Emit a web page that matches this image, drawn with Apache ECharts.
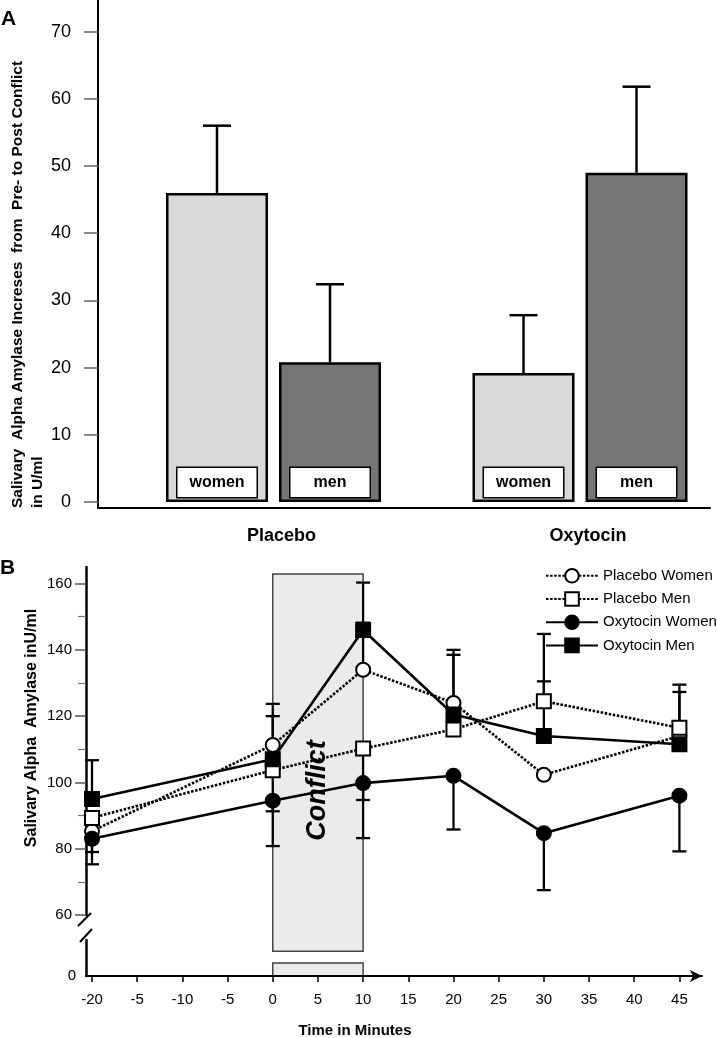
<!DOCTYPE html>
<html><head><meta charset="utf-8">
<script src="https://cdn.jsdelivr.net/npm/echarts@6/dist/echarts.min.js"></script>
<style>html,body{margin:0;padding:0;background:#fff}#c{width:717px;height:1038px}</style>
</head><body><div id="c"></div>
<script>
// ---------- Panel A data ----------
const groupsA = ['Placebo', 'Oxytocin'];
const sexesA = ['women', 'men'];
const womenA = [46.0, 19.2];
const menA = [20.8, 49.0];
const womenErrA = [10.0, 8.6];
const menErrA = [11.6, 12.8];
const ticksA = [0, 10, 20, 30, 40, 50, 60, 70];

// ---------- Panel B data ----------
const timeTickLabels = ['-20', '-5', '-10', '-5', '0', '5', '10', '15', '20', '25', '30', '35', '40', '45'];
const timeIdx = [0, 4, 6, 8, 10, 13];          // positions of -20, 0, 10, 20, 30, 45 on the tick row
const seriesNamesB = ['Placebo Women', 'Placebo Men', 'Oxytocin Women', 'Oxytocin Men'];
const placeboWomen = [85.3, 111.3, 134.0, 124.0, 102.3, 114.0];
const placeboMen = [89.3, 103.7, 110.2, 116.0, 124.5, 116.5];
const oxytocinWomen = [83.0, 94.5, 99.8, 102.0, 84.7, 96.0];
const oxytocinMen = [95.0, 107.0, 146.0, 120.5, 114.0, 111.5];
const placeboWomenErrUp = [null, 12.4, 14.2, 16.0, null, 13.3];
const placeboWomenErrDown = [6.3, null, null, null, null, null];
const placeboMenErrUp = [null, null, null, null, 20.3, 13.0];
const placeboMenErrDown = [null, 12.4, 15.5, null, null, null];
const oxytocinWomenErrDown = [7.7, 13.7, 16.6, 16.2, 17.2, 16.8];
const oxytocinMenErrUp = [11.7, 13.0, 14.3, 18.0, 16.5, null];
const ticksBMajor = [60, 80, 100, 120, 140, 160];
const ticksBMinor = [70, 90, 110, 130, 150];
const conflictSpan = [4, 6];          // 0 min .. 10 min
const conflictUpper = [49.1, 162.9];
const conflictLower = [0, 3.6];

// ---------- rendering ----------
const FONT = '"Liberation Sans", Arial, Helvetica, sans-serif';
const chart = echarts.init(document.getElementById('c'), null, {renderer: 'canvas', width: 717, height: 1038});

const barData = vals => vals.map((v, i) => [i + 1, v]);
const errDataA = (vals, errs) => vals.map((v, i) => [i + 1, v, errs[i]]);

function errRenderA(offset) {
  return function (params, api) {
    const x = api.value(0), v = api.value(1), e = api.value(2);
    const p0 = api.coord([x, v]);
    const p1 = api.coord([x, v + e]);
    const cx = p0[0] + offset;
    return {type: 'group', children: [
      {type: 'line', shape: {x1: cx, y1: p0[1], x2: cx, y2: p1[1]}, style: {stroke: '#000', lineWidth: 2.5}},
      {type: 'line', shape: {x1: cx - 14, y1: p1[1], x2: cx + 14, y2: p1[1]}, style: {stroke: '#000', lineWidth: 2.5}}
    ]};
  };
}

const seriesB = [placeboWomen, placeboMen, oxytocinWomen, oxytocinMen];
const errUpB = [placeboWomenErrUp, placeboMenErrUp, null, oxytocinMenErrUp];
const errDownB = [placeboWomenErrDown, placeboMenErrDown, oxytocinWomenErrDown, null];
const errItemsB = [];
seriesB.forEach((vals, s) => {
  vals.forEach((v, i) => {
    if (errUpB[s] && errUpB[s][i] != null) errItemsB.push([timeIdx[i], v, v + errUpB[s][i]]);
    if (errDownB[s] && errDownB[s][i] != null) errItemsB.push([timeIdx[i], v, v - errDownB[s][i]]);
  });
});

const styleB = [
  {symbol: 'circle', fill: '#fff', dash: [2.5, 1.6]},
  {symbol: 'rect', fill: '#fff', dash: [2.5, 1.6]},
  {symbol: 'circle', fill: '#000', dash: 'solid'},
  {symbol: 'rect', fill: '#000', dash: 'solid'}
];

function boxRender(withText) {
  return function (params, api) {
    const a = api.coord([api.value(0), api.value(3)]);
    const b = api.coord([api.value(1), api.value(2)]);
    const children = [
      {type: 'rect', shape: {x: a[0], y: a[1], width: b[0] - a[0], height: b[1] - a[1]},
       style: {fill: '#ebebeb', stroke: '#444', lineWidth: 1.5}}
    ];
    if (withText) {
      children.push({type: 'text', x: (a[0] + b[0]) / 2, y: (a[1] + b[1]) / 2 + 28, rotation: Math.PI / 2,
        style: {text: 'Conflict', font: 'italic bold 27px ' + FONT, fill: '#000',
                align: 'center', verticalAlign: 'middle', textAlign: 'center', textVerticalAlign: 'middle'}});
    }
    return {type: 'group', children};
  };
}

const axisFont = {color: '#000', fontFamily: FONT};

const option = {
  animation: false,
  backgroundColor: '#fff',
  textStyle: {fontFamily: FONT},
  legend: {
    data: seriesNamesB, orient: 'vertical', left: 545, top: 568, padding: 0,
    itemWidth: 52, itemHeight: 17, itemGap: 7.6,
    textStyle: {fontSize: 15, color: '#000', fontFamily: FONT},
    selectedMode: false
  },
  grid: [
    {left: 98, right: 7, top: 0, height: 508, outerBoundsMode: 'none', containLabel: false},
    {left: 86, right: 15, top: 567, height: 348, outerBoundsMode: 'none', containLabel: false},
    {left: 86, right: 15, top: 940, height: 36, outerBoundsMode: 'none', containLabel: false}
  ],
  xAxis: [
    {gridIndex: 0, type: 'value', min: 0.4274, max: 2.4241,
     axisLine: {show: true, onZero: false, lineStyle: {color: '#000', width: 2}},
     axisTick: {show: false}, splitLine: {show: false},
     axisLabel: {customValues: [1, 2], formatter: v => groupsA[Math.round(v) - 1], margin: 19,
                 fontSize: 18, fontWeight: 'bold', padding: [0, 0, 0, 16], ...axisFont}},
    {gridIndex: 1, type: 'value', min: -0.133, max: 13.5, show: false, splitLine: {show: false}},
    {gridIndex: 2, type: 'value', min: -0.133, max: 13.5,
     axisLine: {show: true, onZero: false, lineStyle: {color: '#000', width: 2},
                symbol: ['none', 'arrow'], symbolSize: [9, 12]},
     axisTick: {show: true, customValues: timeTickLabels.map((_, i) => i), length: 6,
                lineStyle: {color: '#000', width: 1.5}},
     splitLine: {show: false},
     axisLabel: {customValues: timeTickLabels.map((_, i) => i), formatter: v => timeTickLabels[Math.round(v)],
                 margin: 16, fontSize: 15, ...axisFont}}
  ],
  yAxis: [
    {gridIndex: 0, type: 'value', min: -0.89, max: 74.7,
     axisLine: {show: true, onZero: false, lineStyle: {color: '#000', width: 2}},
     axisTick: {show: true, customValues: ticksA, length: 14, lineStyle: {color: '#666', width: 1.5}},
     axisLabel: {customValues: ticksA, margin: 27, fontSize: 18, ...axisFont},
     splitLine: {show: false}},
    {gridIndex: 1, type: 'value', min: 60, max: 165, position: 'left', offset: 0,
     axisLine: {show: true, onZero: false, lineStyle: {color: '#000', width: 2.5}},
     axisTick: {show: true, customValues: ticksBMajor, length: 11, lineStyle: {color: '#555', width: 1.5}},
     axisLabel: {customValues: ticksBMajor, margin: 14, fontSize: 15, ...axisFont},
     splitLine: {show: false}},
    {gridIndex: 2, type: 'value', min: 0, max: 10, position: 'left',
     axisLine: {show: true, onZero: false, lineStyle: {color: '#000', width: 2.5}},
     axisTick: {show: false},
     axisLabel: {customValues: [0], margin: 10, fontSize: 15, ...axisFont},
     splitLine: {show: false}},
    {gridIndex: 1, type: 'value', min: 60, max: 165, position: 'left', offset: 0,
     axisLine: {show: false, onZero: false},
     axisTick: {show: true, inside: false, customValues: ticksBMinor, length: 8, lineStyle: {color: '#777', width: 1.2}},
     axisLabel: {show: false}, splitLine: {show: false}}
  ],
  series: [
    // Panel A bars
    {type: 'bar', name: sexesA[0], xAxisIndex: 0, yAxisIndex: 0, data: barData(womenA),
     barWidth: 102, barGap: '10.8%',
     itemStyle: {color: '#d9d9d9', borderColor: '#000', borderWidth: 2.5},
     label: {show: true, position: 'insideBottom', distance: 5, formatter: '{a}',
             backgroundColor: '#fff', borderColor: '#000', borderWidth: 1.5,
             width: 71, height: 27, lineHeight: 27, padding: [1, 4], align: 'center',
             fontSize: 16, fontWeight: 'bold', color: '#000', fontFamily: FONT},
     emphasis: {disabled: true}, z: 2},
    {type: 'bar', name: sexesA[1], xAxisIndex: 0, yAxisIndex: 0, data: barData(menA),
     barWidth: 102, barGap: '10.8%',
     itemStyle: {color: '#767676', borderColor: '#000', borderWidth: 2.5},
     label: {show: true, position: 'insideBottom', distance: 5, formatter: '{a}',
             backgroundColor: '#fff', borderColor: '#000', borderWidth: 1.5,
             width: 71, height: 27, lineHeight: 27, padding: [1, 4], align: 'center',
             fontSize: 16, fontWeight: 'bold', color: '#000', fontFamily: FONT},
     emphasis: {disabled: true}, z: 2},
    {type: 'custom', name: 'errWomen', xAxisIndex: 0, yAxisIndex: 0, data: errDataA(womenA, womenErrA),
     renderItem: errRenderA(-56.5), encode: {x: 0, y: 1}, z: 3, silent: true},
    {type: 'custom', name: 'errMen', xAxisIndex: 0, yAxisIndex: 0, data: errDataA(menA, menErrA),
     renderItem: errRenderA(56.5), encode: {x: 0, y: 1}, z: 3, silent: true},
    // Panel B conflict boxes
    {type: 'custom', name: 'conflictUpper', xAxisIndex: 1, yAxisIndex: 1, clip: false,
     data: [[conflictSpan[0], conflictSpan[1], conflictUpper[0], conflictUpper[1]]],
     encode: {x: [0, 1], y: [2, 3]}, renderItem: boxRender(true), z: 0, silent: true},
    {type: 'custom', name: 'conflictLower', xAxisIndex: 2, yAxisIndex: 2, clip: false,
     data: [[conflictSpan[0], conflictSpan[1], conflictLower[0], conflictLower[1]]],
     encode: {x: [0, 1], y: [2, 3]}, renderItem: boxRender(false), z: 0, silent: true},
    // Panel B error bars
    {type: 'custom', name: 'errB', xAxisIndex: 1, yAxisIndex: 1, clip: false, data: errItemsB,
     encode: {x: 0, y: [1, 2]}, z: 2, silent: true,
     renderItem: function (params, api) {
       const p0 = api.coord([api.value(0), api.value(1)]);
       const p1 = api.coord([api.value(0), api.value(2)]);
       return {type: 'group', children: [
         {type: 'line', shape: {x1: p0[0], y1: p0[1], x2: p1[0], y2: p1[1]}, style: {stroke: '#000', lineWidth: 2.3}},
         {type: 'line', shape: {x1: p1[0] - 7, y1: p1[1], x2: p1[0] + 7, y2: p1[1]}, style: {stroke: '#000', lineWidth: 2.3}}
       ]};
     }},
    // Panel B lines
    ...seriesB.map((vals, s) => ({
      type: 'line', name: seriesNamesB[s], xAxisIndex: 1, yAxisIndex: 1,
      data: vals.map((v, i) => [timeIdx[i], v]),
      symbol: styleB[s].symbol, symbolSize: 14, showAllSymbol: true,
      itemStyle: {color: styleB[s].fill, borderColor: '#000', borderWidth: 2},
      lineStyle: {color: '#000', width: 2.6, type: styleB[s].dash},
      emphasis: {disabled: true}, z: 4 + (s >= 2 ? 1 : 0)
    }))
  ],
  graphic: [
    {type: 'text', x: 1, y: 19, style: {text: 'A', font: 'bold 21px ' + FONT, fill: '#000',
      verticalAlign: 'middle', textVerticalAlign: 'middle'}},
    {type: 'text', x: 0, y: 568, style: {text: 'B', font: 'bold 21px ' + FONT, fill: '#000',
      verticalAlign: 'middle', textVerticalAlign: 'middle'}},
    {type: 'text', x: 28, y: 508, rotation: Math.PI / 2,
     style: {text: 'Salivary  Alpha Amylase Increses  from  Pre- to Post Conflict\nin U/ml',
             font: 'bold 15.5px ' + FONT, lineHeight: 20, fill: '#000',
             align: 'left', textAlign: 'left', verticalAlign: 'middle', textVerticalAlign: 'middle'}},
    {type: 'text', x: 32, y: 728, rotation: Math.PI / 2,
     style: {text: 'Salivary Alpha  Amylase inU/ml', font: 'bold 16px ' + FONT, fill: '#000',
             align: 'center', textAlign: 'center', verticalAlign: 'middle', textVerticalAlign: 'middle'}},
    {type: 'text', x: 355, y: 1031,
     style: {text: 'Time in Minutes', font: 'bold 15px ' + FONT, fill: '#000',
             align: 'center', textAlign: 'center', verticalAlign: 'middle', textVerticalAlign: 'middle'}},
    // axis break marks
    {type: 'line', shape: {x1: 78, y1: 926, x2: 91, y2: 913}, style: {stroke: '#000', lineWidth: 2}},
    {type: 'line', shape: {x1: 80, y1: 942, x2: 92, y2: 929}, style: {stroke: '#000', lineWidth: 2}}
  ]
};
chart.setOption(option);
</script>
</body></html>
